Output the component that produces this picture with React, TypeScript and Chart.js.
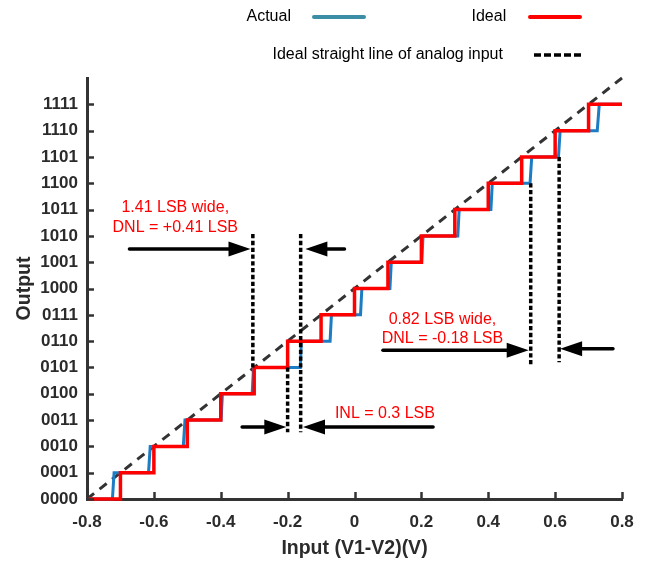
import { useEffect, useRef } from 'react';
import { Chart, registerables } from 'chart.js';

Chart.register(...registerables);

// ---- data ----
const codes = [0, 1, 2, 3, 4, 5, 6, 7, 8, 9, 10, 11, 12, 13, 14, 15];
const yTickLabels = ['0000', '0001', '0010', '0011', '0100', '0101', '0110', '0111', '1000', '1001', '1010', '1011', '1100', '1101', '1110', '1111'];
const xTickValues = [-0.8, -0.6, -0.4, -0.2, 0, 0.2, 0.4, 0.6, 0.8];
const xTickLabels = ['-0.8', '-0.6', '-0.4', '-0.2', '0', '0.2', '0.4', '0.6', '0.8'];
const xDomain = [-0.8, 0.8];
const yDomain = [0, 16];

// input voltage where the ideal code steps from k to k+1
const idealTransitions = [-0.7, -0.6, -0.5, -0.4, -0.3, -0.2, -0.1, 0, 0.1, 0.2, 0.3, 0.4, 0.5, 0.6, 0.7];
// actual transitions (bottom and top of each riser)
const actualRiserLow = [-0.724, -0.616, -0.512, -0.399, -0.306, -0.162, -0.073, 0.018, 0.106, 0.201, 0.309, 0.408, 0.525, 0.610, 0.726];
const actualRiserHigh = [-0.719, -0.611, -0.507, -0.395, -0.302, -0.159, -0.069, 0.022, 0.110, 0.205, 0.313, 0.412, 0.530, 0.615, 0.732];

// ideal straight line of analog input
const straightX = [-0.8, 0.8];
const straightY = [0, 16];

// annotations (data units)
const dottedX = [-0.304, -0.161, -0.2, 0.527, 0.612];
const dottedTop = [10.07, 10.07, 5, 12, 13];
const dottedBottom = [5, 2.54, 2.54, 5.08, 5.2];

const arrowTail = [-0.673, -0.030, -0.336, 0.235, 0.085, 0.773];
const arrowTip = [-0.311, -0.147, -0.204, -0.154, 0.521, 0.615];
const arrowY = [9.505, 9.505, 2.74, 2.74, 5.65, 5.71];

const noteTexts = ['1.41 LSB wide,', 'DNL = +0.41 LSB', 'INL = 0.3 LSB', '0.82 LSB wide,', 'DNL = -0.18 LSB'];
const noteX = [-0.536, -0.536, 0.091, 0.263, 0.263];
const noteY = [11.07, 10.31, 3.26, 6.80, 6.08];

const FONT = "'Liberation Sans', Arial, Helvetica, sans-serif";
const AXIS_COLOR = '#333333';
const TEXT_COLOR = '#2b2b2b';
const BLUE = '#1c7cc4';
const BLUE_LEGEND = '#3b8ea5';
const RED = '#ff0000';

function buildIdeal() {
  const pts: { x: number; y: number }[] = [{ x: xDomain[0], y: codes[0] }];
  idealTransitions.forEach((t, k) => {
    pts.push({ x: t, y: codes[k] });
    pts.push({ x: t, y: codes[k + 1] });
  });
  pts.push({ x: xDomain[1], y: codes[codes.length - 1] });
  return pts;
}

function buildActual() {
  const pts: { x: number; y: number }[] = [{ x: xDomain[0], y: codes[0] }];
  actualRiserLow.forEach((t, k) => {
    pts.push({ x: t, y: codes[k] });
    pts.push({ x: actualRiserHigh[k], y: codes[k + 1] });
  });
  pts.push({ x: xDomain[1], y: codes[codes.length - 1] });
  return pts;
}

function drawArrow(ctx: CanvasRenderingContext2D, x1: number, x2: number, y: number) {
  const dir = x2 > x1 ? 1 : -1;
  const headLen = 22;
  const halfW = 7.5;
  ctx.save();
  ctx.strokeStyle = '#000';
  ctx.fillStyle = '#000';
  ctx.lineWidth = 3.5;
  ctx.lineCap = 'round';
  ctx.beginPath();
  ctx.moveTo(x1, y);
  ctx.lineTo(x2 - dir * (headLen - 2), y);
  ctx.stroke();
  ctx.beginPath();
  ctx.moveTo(x2, y);
  ctx.lineTo(x2 - dir * headLen, y - halfW);
  ctx.lineTo(x2 - dir * headLen, y + halfW);
  ctx.closePath();
  ctx.fill();
  ctx.restore();
}

const overlayPlugin = {
  id: 'overlay',
  afterDraw(chart: any) {
    const ctx: CanvasRenderingContext2D = chart.ctx;
    const xs = chart.scales.x;
    const ys = chart.scales.y;
    const area = chart.chartArea;

    // inward tick marks
    ctx.save();
    ctx.strokeStyle = AXIS_COLOR;
    ctx.lineWidth = 2.5;
    xTickValues.forEach((v) => {
      const px = Math.round(xs.getPixelForValue(v)) + 0.5;
      ctx.beginPath();
      ctx.moveTo(px, area.bottom);
      ctx.lineTo(px, area.bottom - 7);
      ctx.stroke();
    });
    codes.forEach((v) => {
      const py = Math.round(ys.getPixelForValue(v)) + 0.5;
      ctx.beginPath();
      ctx.moveTo(area.left, py);
      ctx.lineTo(area.left + 7, py);
      ctx.stroke();
    });
    ctx.restore();

    // dotted verticals
    ctx.save();
    ctx.strokeStyle = '#000';
    ctx.lineWidth = 3.5;
    ctx.setLineDash([4.3, 2.5]);
    dottedX.forEach((x, i) => {
      const px = xs.getPixelForValue(x);
      ctx.beginPath();
      ctx.moveTo(px, ys.getPixelForValue(dottedTop[i]));
      ctx.lineTo(px, ys.getPixelForValue(dottedBottom[i]));
      ctx.stroke();
    });
    ctx.restore();

    // arrows
    arrowTail.forEach((t, i) => {
      drawArrow(ctx, xs.getPixelForValue(t), xs.getPixelForValue(arrowTip[i]), ys.getPixelForValue(arrowY[i]));
    });

    // red notes
    ctx.save();
    ctx.fillStyle = RED;
    ctx.font = `16px ${FONT}`;
    ctx.textAlign = 'center';
    ctx.textBaseline = 'middle';
    noteTexts.forEach((t, i) => {
      ctx.fillText(t, xs.getPixelForValue(noteX[i]), ys.getPixelForValue(noteY[i]));
    });
    ctx.restore();

    // legend
    const ds = chart.data.datasets;
    ctx.save();
    ctx.fillStyle = '#000';
    ctx.font = `16px ${FONT}`;
    ctx.textAlign = 'left';
    ctx.textBaseline = 'middle';
    ctx.fillText(ds[1].label, 246.5, 17);
    ctx.fillText(ds[2].label, 471.5, 17);
    ctx.fillText(ds[0].label, 272.5, 55);
    ctx.lineCap = 'round';
    ctx.lineWidth = 4;
    ctx.strokeStyle = BLUE_LEGEND;
    ctx.beginPath();
    ctx.moveTo(314, 17);
    ctx.lineTo(364, 17);
    ctx.stroke();
    ctx.strokeStyle = RED;
    ctx.beginPath();
    ctx.moveTo(530, 17);
    ctx.lineTo(580, 17);
    ctx.stroke();
    ctx.lineCap = 'butt';
    ctx.lineWidth = 3.5;
    ctx.strokeStyle = '#000';
    ctx.setLineDash([7, 3]);
    ctx.beginPath();
    ctx.moveTo(534, 55);
    ctx.lineTo(581, 55);
    ctx.stroke();
    ctx.restore();
  },
};

export default function App() {
  const canvasRef = useRef<HTMLCanvasElement | null>(null);

  useEffect(() => {
    const canvas = canvasRef.current;
    if (!canvas) return;
    const straightPts = straightX.map((x, i) => ({ x, y: straightY[i] }));
    const chart = new Chart(canvas, {
      type: 'line',
      data: {
        datasets: [
          {
            label: 'Ideal straight line of analog input',
            data: straightPts,
            borderColor: AXIS_COLOR,
            borderWidth: 3,
            borderDash: [9, 7],
            pointRadius: 0,
            tension: 0,
            clip: false,
            order: 3,
          } as any,
          {
            label: 'Actual',
            data: buildActual(),
            borderColor: BLUE,
            borderWidth: 3,
            pointRadius: 0,
            tension: 0,
            clip: false,
            order: 2,
          },
          {
            label: 'Ideal',
            data: buildIdeal(),
            borderColor: RED,
            borderWidth: 3.5,
            pointRadius: 0,
            tension: 0,
            clip: false,
            order: 1,
          },
        ],
      },
      options: {
        responsive: false,
        maintainAspectRatio: false,
        animation: false,
        events: [],
        layout: { padding: { top: 78, right: 27, left: 0, bottom: 0 } },
        plugins: { legend: { display: false }, tooltip: { enabled: false } },
        scales: {
          x: {
            type: 'linear',
            min: xDomain[0],
            max: xDomain[1],
            afterBuildTicks: (s: any) => {
              s.ticks = xTickValues.map((v) => ({ value: v }));
            },
            afterFit: (s: any) => {
              s.height = 62;
            },
            ticks: {
              callback: (_v: any, i: number) => xTickLabels[i],
              font: { family: FONT, size: 17, weight: 'bold' },
              color: TEXT_COLOR,
              padding: 5,
              maxRotation: 0,
              autoSkip: false,
            },
            grid: { display: false },
            border: { display: true, color: AXIS_COLOR, width: 3 },
            title: {
              display: true,
              text: 'Input (V1-V2)(V)',
              font: { family: FONT, size: 19.5, weight: 'bold' },
              color: TEXT_COLOR,
              padding: { top: 0, bottom: 1 },
            },
          },
          y: {
            type: 'linear',
            min: yDomain[0],
            max: yDomain[1],
            afterBuildTicks: (s: any) => {
              s.ticks = codes.map((v) => ({ value: v }));
            },
            afterFit: (s: any) => {
              s.width = 87;
            },
            ticks: {
              callback: (_v: any, i: number) => yTickLabels[i],
              font: { family: FONT, size: 17, weight: 'bold' },
              color: TEXT_COLOR,
              padding: 1,
              autoSkip: false,
            },
            grid: { display: false },
            border: { display: true, color: AXIS_COLOR, width: 3 },
            title: {
              display: true,
              text: 'Output',
              font: { family: FONT, size: 19.5, weight: 'bold' },
              color: TEXT_COLOR,
              padding: { top: 13, bottom: 0 },
            },
          },
        },
      } as any,
      plugins: [overlayPlugin],
    });
    return () => chart.destroy();
  }, []);

  return (
    <div style={{ position: 'absolute', left: 0, top: 0, width: 649, height: 561 }}>
      <canvas ref={canvasRef} width={649} height={561} style={{ display: 'block' }} />
    </div>
  );
}
